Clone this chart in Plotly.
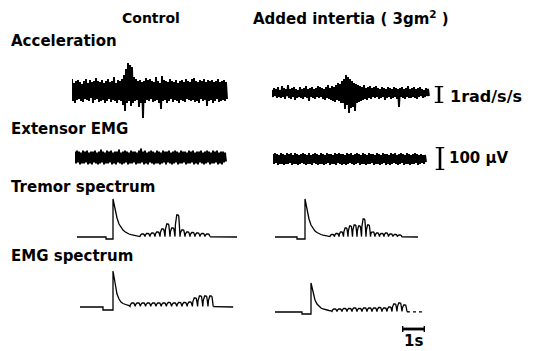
import plotly.graph_objects as go

W, H = 542, 351
FS = 23.0  # samples per second on the time traces (1 s scale bar = 23 samples)

# ---------------- time traces (arbitrary chart units, upward positive) ----------------
ACC_CTRL = [12,-10,8,-12,10,-9,11,-8,9,-10, 7,-11,10,-8,12,-9,8,-10,11,-7,
            9,-12,10,-9,13,-8,10,-11,9,-10, 11,-9,8,-12,10,-10,12,-8,9,-11,
            10,-9,14,-10,8,-12,11,-9,10,-10, 12,-14,16,-20,22,-12,28,-10,26,-15,
            24,-12,14,-10,12,-9,10,-16,11,-12, 9,-27,10,-12,13,-9,11,-10,12,-8,
            10,-11,9,-10,14,-9,10,-12,8,-18, 15,-10,11,-9,10,-12,9,-10,12,-8,
            10,-11,9,-9,11,-10,8,-12,10,-9, 11,-10,9,-11,12,-8,10,-9,9,-10,
            12,-9,13,-11,10,-10,9,-12,11,-8, 10,-10,12,-9,9,-15,11,-10,10,-9,
            11,-12,9,-10,10,-8,12,-11,9,-10, 10,-9,11,-10,9,-8]
ACC_ADD = [3,-4,5,-3,4,-5,6,-4,3,-5, 7,-4,5,-6,4,-3,8,-5,4,-6,
           5,-4,6,-7,4,-5,3,-4,6,-5, 4,-6,5,-4,7,-5,4,-8,5,-4,
           6,-5,4,-6,5,-4,7,-5,6,-4, 5,-6,4,-7,6,-5,8,-6,5,-7,
           7,-8,6,-9,8,-7,10,-8,9,-10, 12,-10,14,-16,18,-12,16,-20,14,-15,
           12,-14,10,-18,9,-10,8,-9,7,-8, 6,-7,8,-6,5,-7,6,-5,7,-6,
           5,-4,6,-5,7,-4,5,-6,4,-5, 6,-4,5,-7,4,-5,6,-4,5,-6,
           4,-5,6,-4,5,-6,4,-14,5,-4, 6,-5,4,-6,5,-4,7,-5,4,-5,
           5,-4,6,-5,4,-6,5,-4,6,-3, 4,-5,3,-4,5,-3,4,-3]
EMG_CTRL = [6,-6,7,-5,6,-7,5,-6,7,-6, 6,-5,7,-7,5,-6,6,-7,6,-5,
            7,-6,5,-7,6,-6,8,-5,6,-7, 5,-6,7,-6,6,-5,7,-7,5,-6,
            6,-7,6,-5,8,-6,5,-7,6,-6, 7,-5,6,-7,5,-6,7,-6,6,-5,
            6,-7,5,-6,7,-6,9,-5,6,-7, 7,-6,5,-7,6,-5,7,-6,6,-7,
            5,-6,7,-6,6,-7,5,-6,7,-5, 6,-7,6,-5,7,-6,5,-7,6,-6,
            7,-5,6,-7,5,-6,7,-6,6,-5, 6,-7,5,-6,7,-6,6,-5,7,-7,
            5,-6,6,-7,6,-5,7,-6,5,-7, 6,-6,7,-5,6,-7,5,-6,7,-6,
            6,-5,7,-7,5,-6,6,-7,6,-5,5,-4]
EMG_ADD = [5,-5,6,-4,5,-6,4,-5,6,-5, 5,-6,4,-5,6,-5,5,-4,6,-6,
           4,-5,6,-5,5,-6,4,-5,5,-4, 6,-5,5,-6,4,-5,6,-5,4,-6,
           5,-4,6,-5,5,-6,4,-5,6,-5, 5,-6,4,-5,6,-4,5,-6,5,-5,
           4,-5,6,-6,5,-4,6,-5,5,-6, 5,-5,4,-6,6,-5,5,-4,6,-5,
           4,-6,5,-5,6,-4,5,-6,4,-5, 6,-5,5,-6,4,-5,6,-5,5,-4,
           5,-6,4,-5,6,-5,5,-6,4,-5, 6,-4,5,-6,5,-5,4,-6,6,-5,
           5,-4,6,-5,4,-6,5,-5,6,-4, 5,-6,4,-5,6,-5,5,-6,4,-5,
           5,-5,6,-4,5,-6,4,-5,5,-4,4,-5,4,-3]

# ---------------- spectra (bins, amplitude above baseline) ----------------
TREM_CTRL_DECAY = [38, 28, 19, 13, 9.5, 7, 5.3, 4, 3, 2.3, 1.8, 1.4, 1.1, 1.0]
TREM_CTRL_BUMPS = [3, 3.5, 4, 5, 8, 13, 9, 22, 7, 5, 4.5, 4, 3.5, 3]
TREM_ADD_DECAY = [38, 27, 18, 12, 8.5, 6, 4.5, 3.3, 2.5, 1.9, 1.5, 1.2, 1.0]
TREM_ADD_BUMPS = [2.5, 3.5, 5, 9, 11, 12, 11, 18, 12, 5, 4, 3.5, 4, 3, 2.5, 2]
EMG_CTRL_DECAY = [36, 22, 13, 8, 5, 3.5, 2.5, 2, 1.5]
EMG_CTRL_BUMPS = [4, 4, 4, 4, 4, 4, 4, 4.5, 4, 4.5, 4.5, 5, 9, 11, 11, 11]
EMG_ADD_DECAY = [29, 19, 12, 8, 5.5, 4, 3, 2.3, 1.8, 1.5, 1.2]
EMG_ADD_BUMPS = [3, 3, 3.5, 3.5, 4, 3.5, 4, 4, 4, 4.5, 4, 5, 8, 9, 7]

# scale bar values
ACC_BAR = 1.0     # rad/s/s
EMG_BAR = 100.0   # microvolts
TIME_BAR = 1.0    # seconds

INK = "#000000"
FONT = "DejaVu Sans"

fig = go.Figure()
layout = {}
_n = [0]


def new_axes(left, top, width, height, xr, yr):
    _n[0] += 1
    i = _n[0]
    sfx = "" if i == 1 else str(i)
    layout["xaxis" + sfx] = dict(domain=[left / W, (left + width) / W], range=xr,
                                 visible=False, anchor="y" + sfx, fixedrange=True)
    layout["yaxis" + sfx] = dict(domain=[1 - (top + height) / H, 1 - top / H], range=yr,
                                 visible=False, anchor="x" + sfx, fixedrange=True)
    return "x" + sfx, "y" + sfx


def time_trace(values, left, center, half, width=1.9):
    n = len(values)
    xa, ya = new_axes(left, center - half, n, 2 * half, [0, n / FS], [-half, half])
    fig.add_trace(go.Scatter(x=[i / FS for i in range(n)], y=values, mode="lines",
                             line=dict(color=INK, width=width), xaxis=xa, yaxis=ya,
                             hoverinfo="skip", showlegend=False))


BUMP_SHAPE = [(0.08, 0.55), (0.2, 0.95), (0.35, 1.0), (0.6, 1.0), (0.75, 0.95),
              (0.87, 0.55), (0.95, 0.0), (1.0, 0.0)]


def spectrum(left, baseline, lead, dip_len, dip, decay, step, bumps, period, tail,
             dotted_tail=False):
    xs = [0, lead, lead, lead + dip_len]
    ys = [0, 0, dip, dip]
    x0 = lead + dip_len
    for k, v in enumerate(decay):
        xs.append(x0 + k * step)
        ys.append(v)
    floor = decay[-1] * 0.4
    x = xs[-1] + 1
    xs.append(x)
    ys.append(floor)
    for h in bumps:
        for fx, fy in BUMP_SHAPE:
            xs.append(x + fx * period)
            ys.append(floor + fy * (h - floor))
        x += period
    total = x + tail
    xa, ya = new_axes(left, baseline - 45, total + 2, 50, [0, total + 2], [-5, 45])
    fig.add_trace(go.Scatter(x=xs, y=ys, mode="lines", line=dict(color=INK, width=1.3),
                             xaxis=xa, yaxis=ya, hoverinfo="skip", showlegend=False))
    fig.add_trace(go.Scatter(x=[x, total], y=[floor * 0.5, 0], mode="lines",
                             line=dict(color=INK, width=1.3,
                                       dash="dot" if dotted_tail else "solid"),
                             xaxis=xa, yaxis=ya, hoverinfo="skip", showlegend=False))


# time traces
time_trace(ACC_CTRL, 72, 91, 32)
time_trace(ACC_ADD, 272, 93, 32)
time_trace(EMG_CTRL, 75, 157.5, 12)
time_trace(EMG_ADD, 273, 159, 12)

# spectra
spectrum(77, 237, 29, 7, -2, TREM_CTRL_DECAY, 2, TREM_CTRL_BUMPS, 5, 27)
spectrum(275, 237, 22, 8, -2, TREM_ADD_DECAY, 2, TREM_ADD_BUMPS, 4.5, 16)
spectrum(80, 307, 23, 10, -3, EMG_CTRL_DECAY, 2, EMG_CTRL_BUMPS, 5.2, 20)
spectrum(275, 312, 27, 9, -2, EMG_ADD_DECAY, 2, EMG_ADD_BUMPS, 5, 18, dotted_tail=True)


def vbar(left, top, height, value):
    xa, ya = new_axes(left, top, 9, height, [-1, 1], [0, value])
    fig.add_trace(go.Scatter(x=[0, 0, None, -1, 1, None, -1, 1],
                             y=[0, value, None, 0, 0, None, value, value],
                             mode="lines", line=dict(color=INK, width=2.6),
                             xaxis=xa, yaxis=ya, hoverinfo="skip", showlegend=False))


vbar(434.5, 86, 17, ACC_BAR)
vbar(435.5, 147, 23, EMG_BAR)

xa, ya = new_axes(402, 326, 23, 6, [0, TIME_BAR], [-1, 1])
fig.add_trace(go.Scatter(x=[0, TIME_BAR, None, 0, 0, None, TIME_BAR, TIME_BAR],
                         y=[0, 0, None, -1, 1, None, -1, 1], mode="lines",
                         line=dict(color=INK, width=2.8), xaxis=xa, yaxis=ya,
                         hoverinfo="skip", showlegend=False))


def label(text, px, py, size=15, xanchor="left"):
    fig.add_annotation(text=text, x=px / W, y=1 - py / H, xref="paper", yref="paper",
                       xanchor=xanchor, yanchor="middle", showarrow=False,
                       font=dict(family=FONT, size=size, color=INK, weight="bold"))


label("Control", 120, 18, 14)
label("Added intertia ( 3gm<sup>2</sup> )", 251, 18, 15)
label("Acceleration", 9, 41)
label("Extensor EMG", 9, 129)
label("Tremor spectrum", 9, 187)
label("EMG spectrum", 9, 256)
label("1rad/s/s", 448, 96, 16)
label("100 μV", 447, 158, 15)
label("1s", 413, 341, 15, xanchor="center")

fig.update_layout(**layout)
fig.update_layout(width=W, height=H, margin=dict(l=0, r=0, t=0, b=0),
                  paper_bgcolor="white", plot_bgcolor="white", showlegend=False)
fig.write_html("out.html", config={"displayModeBar": False})
